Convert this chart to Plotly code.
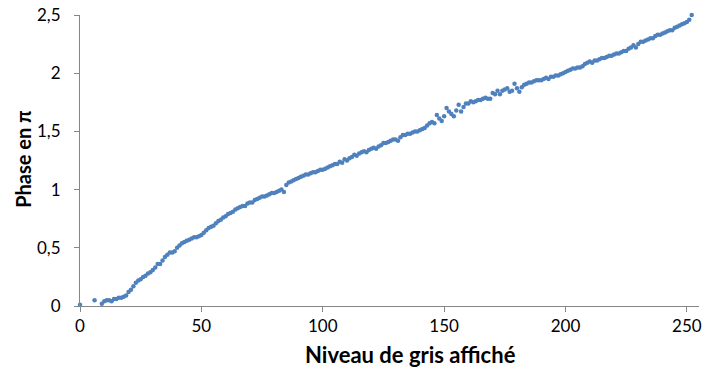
import plotly.graph_objects as go

# Gray level shown on the display (x) and measured phase in units of pi (y)
gray_levels = [0, 6, 9] + list(range(10, 253))
phase_pi = [
    0.01, 0.05, 0.02,
    # 10-19
    0.04, 0.05, 0.05, 0.04, 0.06, 0.06, 0.07, 0.07, 0.08, 0.09,
    # 20-29
    0.12, 0.14, 0.17, 0.20, 0.22, 0.23, 0.25, 0.26, 0.28, 0.29,
    # 30-39
    0.31, 0.33, 0.36, 0.36, 0.39, 0.42, 0.44, 0.46, 0.46, 0.47,
    # 40-49
    0.50, 0.52, 0.54, 0.55, 0.56, 0.57, 0.58, 0.59, 0.59, 0.60,
    # 50-59
    0.61, 0.63, 0.65, 0.67, 0.68, 0.69, 0.71, 0.73, 0.74, 0.76,
    # 60-69
    0.77, 0.79, 0.80, 0.81, 0.83, 0.84, 0.85, 0.86, 0.86, 0.88,
    # 70-79
    0.89, 0.89, 0.91, 0.92, 0.93, 0.94, 0.94, 0.95, 0.96, 0.97,
    # 80-89
    0.97, 0.98, 0.99, 1.00, 0.98, 1.04, 1.06, 1.07, 1.08, 1.09,
    # 90-99
    1.10, 1.11, 1.12, 1.13, 1.13, 1.14, 1.15, 1.15, 1.16, 1.17,
    # 100-109
    1.17, 1.18, 1.19, 1.20, 1.21, 1.22, 1.22, 1.24, 1.23, 1.26,
    # 110-119
    1.25, 1.27, 1.28, 1.30, 1.29, 1.31, 1.32, 1.33, 1.32, 1.34,
    # 120-129
    1.35, 1.36, 1.35, 1.37, 1.38, 1.40, 1.40, 1.41, 1.42, 1.43,
    # 130-139
    1.43, 1.42, 1.45, 1.47, 1.47, 1.48, 1.48, 1.49, 1.50, 1.50,
    # 140-149
    1.51, 1.52, 1.53, 1.55, 1.57, 1.58, 1.57, 1.64, 1.61, 1.59,
    # 150-159
    1.63, 1.70, 1.67, 1.65, 1.63, 1.68, 1.73, 1.67, 1.71, 1.74,
    # 160-169
    1.74, 1.76, 1.75, 1.76, 1.77, 1.77, 1.78, 1.79, 1.78, 1.78,
    # 170-179
    1.83, 1.82, 1.85, 1.82, 1.85, 1.86, 1.87, 1.84, 1.85, 1.91,
    # 180-189
    1.87, 1.84, 1.88, 1.90, 1.91, 1.92, 1.92, 1.93, 1.94, 1.94,
    # 190-199
    1.94, 1.95, 1.96, 1.95, 1.97, 1.97, 1.98, 1.98, 1.99, 2.00,
    # 200-209
    2.01, 2.02, 2.03, 2.04, 2.04, 2.05, 2.05, 2.06, 2.08, 2.09,
    # 210-219
    2.10, 2.09, 2.11, 2.11, 2.12, 2.13, 2.13, 2.14, 2.15, 2.15,
    # 220-229
    2.16, 2.17, 2.17, 2.18, 2.19, 2.19, 2.21, 2.22, 2.24, 2.22,
    # 230-239
    2.25, 2.27, 2.27, 2.28, 2.29, 2.30, 2.30, 2.32, 2.33, 2.33,
    # 240-249
    2.34, 2.35, 2.36, 2.37, 2.37, 2.39, 2.40, 2.41, 2.42, 2.43,
    # 250-252
    2.44, 2.46, 2.50,
]

x_ticks = [0, 50, 100, 150, 200, 250]
x_tick_labels = ["0", "50", "100", "150", "200", "250"]
y_ticks = [0, 0.5, 1, 1.5, 2, 2.5]
y_tick_labels = ["0", "0,5", "1", "1,5", "2", "2,5"]

x_title = "Niveau de gris affiché"
y_title = "Phase en π"

FONT = "Lato, Carlito, Calibri, sans-serif"
AXIS_GRAY = "#868686"

fig = go.Figure(
    go.Scatter(
        x=gray_levels,
        y=phase_pi,
        mode="markers",
        marker=dict(size=4.5, color="#4f81bd", line=dict(width=0)),
        cliponaxis=False,
        hoverinfo="x+y",
    )
)

fig.update_layout(
    width=705,
    height=372,
    margin=dict(l=80, r=3, t=15, b=66),
    paper_bgcolor="white",
    plot_bgcolor="white",
    showlegend=False,
    font=dict(family=FONT, size=17, color="#000000"),
    annotations=[
        dict(
            text="<b>" + x_title + "</b>",
            xref="paper", yref="paper",
            x=0.534, y=-0.165,
            xanchor="center", yanchor="middle",
            showarrow=False,
            font=dict(family=FONT, size=22, color="#000000"),
        ),
        dict(
            text="<b>" + y_title + "</b>",
            xref="paper", yref="paper",
            x=-0.092, y=0.506,
            xanchor="center", yanchor="middle",
            textangle=-90,
            showarrow=False,
            font=dict(family=FONT, size=20, color="#000000"),
        ),
    ],
)

fig.update_xaxes(
    range=[0, 255],
    tickmode="array",
    tickvals=x_ticks,
    ticktext=x_tick_labels,
    ticks="outside",
    ticklen=5,
    tickcolor=AXIS_GRAY,
    showline=True,
    linecolor=AXIS_GRAY,
    linewidth=1,
    showgrid=False,
    zeroline=False,
    ticklabeloverflow="allow",
    tickfont=dict(family=FONT, size=17),
)

fig.update_yaxes(
    range=[0, 2.5],
    tickmode="array",
    tickvals=y_ticks,
    ticktext=y_tick_labels,
    ticks="outside",
    ticklen=5,
    tickcolor=AXIS_GRAY,
    showline=True,
    linecolor=AXIS_GRAY,
    linewidth=1,
    showgrid=False,
    zeroline=False,
    ticklabelstandoff=10,
    ticklabeloverflow="allow",
    tickfont=dict(family=FONT, size=17),
)

fig.write_html("out.html")
